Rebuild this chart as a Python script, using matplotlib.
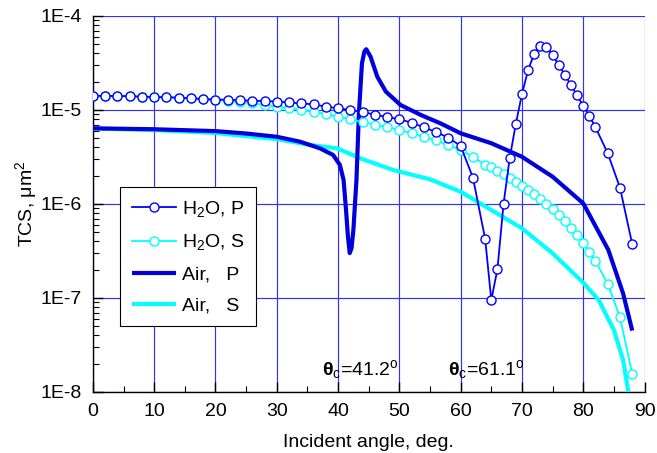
import matplotlib
matplotlib.use("Agg")
import matplotlib.pyplot as plt
from matplotlib.ticker import FixedLocator, MultipleLocator, LogLocator, NullFormatter

plt.rcParams['font.family'] = ['Liberation Sans', 'DejaVu Sans']
plt.rcParams['mathtext.fontset'] = 'custom'
plt.rcParams['mathtext.rm'] = 'Liberation Sans'
plt.rcParams['mathtext.it'] = 'Liberation Sans'
plt.rcParams['mathtext.bf'] = 'Liberation Sans:bold'

# ---- data ----
h2o_angle = [0, 2, 4, 6, 8, 10, 12, 14, 16, 18, 20, 22, 24, 26, 28, 30, 32, 34, 36, 38,
             40, 42, 44, 46, 48, 50, 52, 54, 56, 58, 60, 62, 64, 65, 66, 67, 68, 69, 70,
             71, 72, 73, 74, 75, 76, 77, 78, 79, 80, 81, 82, 84, 86, 88]
h2o_p = [1.419e-5, 1.409e-5, 1.409e-5, 1.40e-5, 1.387e-5, 1.374e-5, 1.365e-5, 1.352e-5,
         1.33e-5, 1.309e-5, 1.288e-5, 1.288e-5, 1.268e-5, 1.256e-5, 1.245e-5, 1.23e-5,
         1.202e-5, 1.175e-5, 1.148e-5, 1.084e-5, 1.042e-5, 1.0e-5, 9.53e-6, 8.91e-6,
         8.43e-6, 7.96e-6, 7.33e-6, 6.55e-6, 5.82e-6, 5.08e-6, 4.14e-6, 1.91e-6, 4.25e-7,
         9.5e-8, 2.02e-7, 1.0e-6, 3.06e-6, 7.1e-6, 1.469e-5, 2.65e-5, 3.97e-5, 4.8e-5,
         4.65e-5, 3.82e-5, 3.03e-5, 2.36e-5, 1.845e-5, 1.432e-5, 1.104e-5, 8.63e-6,
         6.55e-6, 3.46e-6, 1.49e-6, 3.72e-7]
h2o_s = [1.419e-5, 1.409e-5, 1.409e-5, 1.40e-5, 1.387e-5, 1.374e-5, 1.365e-5, 1.352e-5,
         1.33e-5, 1.309e-5, 1.276e-5, 1.247e-5, 1.208e-5, 1.186e-5, 1.13e-5, 1.084e-5,
         1.042e-5, 1.0e-5, 9.53e-6, 9.06e-6, 8.49e-6, 7.96e-6, 7.45e-6, 6.98e-6, 6.55e-6,
         6.12e-6, 5.65e-6, 5.2e-6, 4.76e-6, 4.25e-6, 3.75e-6, 3.18e-6, 2.6e-6, 2.49e-6,
         2.26e-6, 2.08e-6, 1.875e-6, 1.726e-6, 1.552e-6, 1.409e-6, 1.268e-6, 1.122e-6,
         9.9e-7, 8.77e-7, 7.64e-7, 6.59e-7, 5.6e-7, 4.68e-7, 3.87e-7, 3.11e-7, 2.48e-7,
         1.41e-7, 6.22e-8, 1.55e-8]

air_p_angle = [0, 10, 20, 25, 30, 33.8, 37, 39.2, 40.3, 40.9, 41.3, 41.6, 41.9, 42.2,
               42.5, 43.0, 43.4, 43.9, 44.3, 44.6, 45.3, 46.4, 47.8, 50.2, 53.5, 56.7,
               60, 65, 70, 75, 80, 84.1, 86.5, 88]
air_p = [6.38e-6, 6.24e-6, 5.96e-6, 5.62e-6, 5.19e-6, 4.6e-6, 3.92e-6, 3.32e-6, 2.6e-6,
         1.8e-6, 8.63e-7, 4.6e-7, 3.0e-7, 3.4e-7, 5.28e-7, 1.8e-6, 9.23e-6, 3.14e-5,
         4.2e-5, 4.43e-5, 3.69e-5, 2.26e-5, 1.567e-5, 1.13e-5, 8.85e-6, 7.21e-6, 5.65e-6,
         4.43e-6, 3.18e-6, 1.95e-6, 1.016e-6, 3.24e-7, 1.12e-7, 4.5e-8]

air_s_angle = [0, 10, 20, 30, 35.4, 39.7, 41.1, 43.6, 49, 55, 60, 65, 70, 75, 80, 82.5,
               85, 86.5, 87.5]
air_s = [6.35e-6, 6.12e-6, 5.69e-6, 4.9e-6, 4.25e-6, 3.92e-6, 3.61e-6, 3.06e-6, 2.3e-6,
         1.83e-6, 1.35e-6, 8.63e-7, 5.51e-7, 2.99e-7, 1.455e-7, 9.55e-8, 4.57e-8, 2.19e-8,
         8.9e-9]

y_ticks = [1e-8, 1e-7, 1e-6, 1e-5, 1e-4]
y_tick_labels = ['1E-8', '1E-7', '1E-6', '1E-5', '1E-4']
x_ticks = [0, 10, 20, 30, 40, 50, 60, 70, 80, 90]

annotations = [(37.4, r'$\mathbf{\theta}_{\mathrm{c}}$=41.2$^{\mathrm{o}}$'),
               (57.9, r'$\mathbf{\theta}_{\mathrm{c}}$=61.1$^{\mathrm{o}}$')]

# ---- colours ----
c_blue = '#0000ff'
c_dblue = '#0000dc'
c_cyan = '#00ffff'
c_grid = '#3030ff'

FS = 14

fig = plt.figure(figsize=(6.57, 4.53), dpi=100)
ax = fig.add_axes([0.1414, 0.1347, 0.8396, 0.83])

ax.set_xlim(0, 90)
ax.set_ylim(1e-8, 1e-4)
ax.set_yscale('log')

ax.grid(True, which='major', color=c_grid, linewidth=0.85)
ax.set_axisbelow(True)

ax.plot(air_s_angle, air_s, color=c_cyan, linewidth=3.0, solid_capstyle='butt',
        label='Air,   S', zorder=3)
ax.plot(air_p_angle, air_p, color=c_dblue, linewidth=3.0, solid_capstyle='butt',
        label='Air,   P', zorder=4)
ax.plot(h2o_angle, h2o_s, color=c_cyan, linewidth=1.3, marker='o', markersize=6.5,
        markerfacecolor='white', markeredgecolor=c_cyan, markeredgewidth=1.0,
        label=r'H$_2$O, S', zorder=5)
ax.plot(h2o_angle, h2o_p, color=c_blue, linewidth=1.3, marker='o', markersize=6.5,
        markerfacecolor='white', markeredgecolor=c_blue, markeredgewidth=1.0,
        label=r'H$_2$O, P', zorder=6)

for xa, txt in annotations:
    ax.text(xa, 1.5e-8, txt, fontsize=FS, ha='left', va='baseline', zorder=7)

ax.xaxis.set_major_locator(FixedLocator(x_ticks))
ax.xaxis.set_minor_locator(MultipleLocator(5))
ax.yaxis.set_major_locator(FixedLocator(y_ticks))
ax.set_yticklabels(y_tick_labels)
ax.yaxis.set_minor_locator(LogLocator(base=10, subs=range(2, 10), numticks=20))
ax.yaxis.set_minor_formatter(NullFormatter())

ax.tick_params(axis='both', which='major', direction='in', length=7, width=1,
               labelsize=FS, colors='black')
ax.tick_params(axis='x', which='major', pad=8)
ax.tick_params(axis='y', which='major', pad=8)
ax.tick_params(axis='both', which='minor', direction='in', length=4, width=0.8)
ax.tick_params(top=False, right=False, which='both')

for s in ['top', 'right']:
    ax.spines[s].set_visible(False)
for s in ['left', 'bottom']:
    ax.spines[s].set_linewidth(1.0)
    ax.spines[s].set_color('black')

ax.set_xlabel('Incident angle, deg.', fontsize=FS, labelpad=10)
ax.set_ylabel(r'TCS, $\mathrm{\mu m}^2$', fontsize=FS, labelpad=1)

handles, labels = ax.get_legend_handles_labels()
order = [3, 2, 1, 0]
leg = ax.legend([handles[i] for i in order], [labels[i] for i in order],
                loc='upper left', bbox_to_anchor=(0.049, 0.545), fontsize=FS,
                frameon=True, fancybox=False, edgecolor='black', framealpha=1,
                handlelength=2.3, handletextpad=0.3, borderpad=0.6, labelspacing=0.7,
                borderaxespad=0)
leg.get_frame().set_linewidth(0.8)
leg.set_zorder(10)

fig.savefig('out.png', dpi=100)
